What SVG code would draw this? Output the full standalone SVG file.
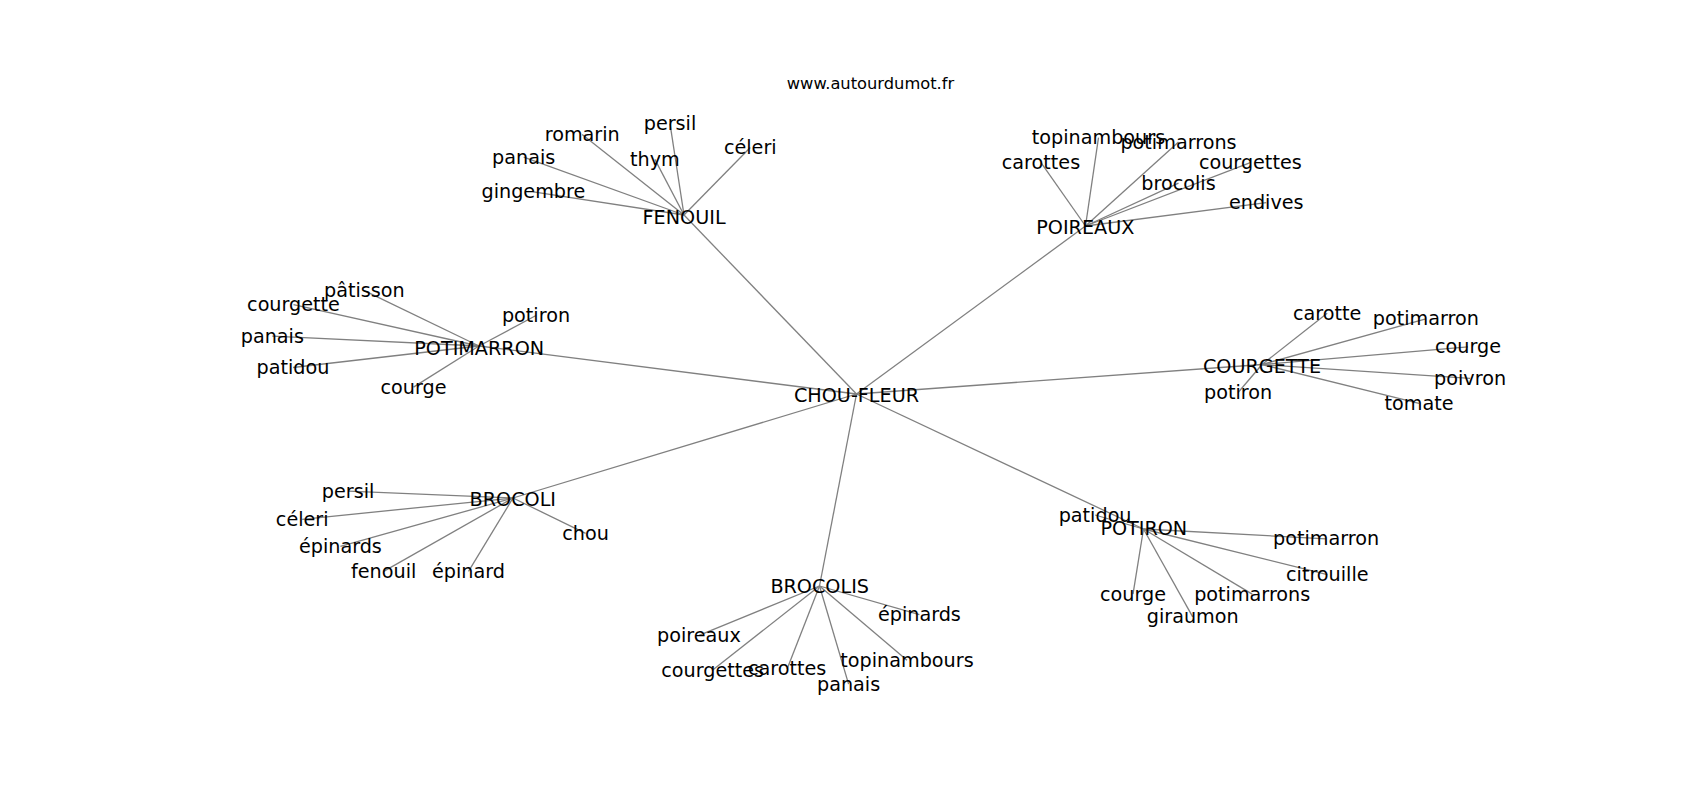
<svg xmlns="http://www.w3.org/2000/svg" width="1700" height="800" viewBox="0 0 1700 800">
<style>
.e{stroke:#808080;stroke-width:1.3;fill:none}
text{font-family:"DejaVu Sans","Liberation Sans",sans-serif;font-size:19.2px;fill:#000;text-anchor:middle}
.title{font-size:16.3px}
</style>
<rect width="1700" height="800" fill="#fff"/>
<text class="title" x="870.5" y="88.5">www.autourdumot.fr</text>
<g id="edges">
<line class="e" x1="856.5" y1="394" x2="684" y2="215"/>
<line class="e" x1="856.5" y1="394" x2="1085.5" y2="226"/>
<line class="e" x1="856.5" y1="394" x2="479" y2="346"/>
<line class="e" x1="856.5" y1="394" x2="1262" y2="364.5"/>
<line class="e" x1="856.5" y1="394" x2="513" y2="498"/>
<line class="e" x1="856.5" y1="394" x2="819.5" y2="586"/>
<line class="e" x1="856.5" y1="394" x2="1143.5" y2="529"/>
<line class="e" x1="684" y1="215" x2="670" y2="123.6"/>
<line class="e" x1="684" y1="215" x2="582.2" y2="134.4"/>
<line class="e" x1="684" y1="215" x2="750.3" y2="147.5"/>
<line class="e" x1="684" y1="215" x2="523.7" y2="157.2"/>
<line class="e" x1="684" y1="215" x2="654.9" y2="159.4"/>
<line class="e" x1="684" y1="215" x2="533.4" y2="191.9"/>
<line class="e" x1="1085.5" y1="226" x2="1098.5" y2="137.7"/>
<line class="e" x1="1085.5" y1="226" x2="1178.5" y2="142"/>
<line class="e" x1="1085.5" y1="226" x2="1041" y2="162.6"/>
<line class="e" x1="1085.5" y1="226" x2="1250.3" y2="162.6"/>
<line class="e" x1="1085.5" y1="226" x2="1178.5" y2="183.2"/>
<line class="e" x1="1085.5" y1="226" x2="1266.3" y2="202.7"/>
<line class="e" x1="479" y1="346" x2="364.3" y2="290.6"/>
<line class="e" x1="479" y1="346" x2="293.5" y2="304.7"/>
<line class="e" x1="479" y1="346" x2="536" y2="315.5"/>
<line class="e" x1="479" y1="346" x2="272.3" y2="336.1"/>
<line class="e" x1="479" y1="346" x2="293" y2="367.5"/>
<line class="e" x1="479" y1="346" x2="413.5" y2="387.1"/>
<line class="e" x1="1262" y1="364.5" x2="1327.2" y2="313.3"/>
<line class="e" x1="1262" y1="364.5" x2="1425.8" y2="318.8"/>
<line class="e" x1="1262" y1="364.5" x2="1468" y2="346.9"/>
<line class="e" x1="1262" y1="364.5" x2="1470.1" y2="378.4"/>
<line class="e" x1="1262" y1="364.5" x2="1238.1" y2="392.5"/>
<line class="e" x1="1262" y1="364.5" x2="1419" y2="403.3"/>
<line class="e" x1="513" y1="498" x2="348.1" y2="491.1"/>
<line class="e" x1="513" y1="498" x2="302.2" y2="519.3"/>
<line class="e" x1="513" y1="498" x2="340.4" y2="546.4"/>
<line class="e" x1="513" y1="498" x2="585.6" y2="533.4"/>
<line class="e" x1="513" y1="498" x2="383.7" y2="571.4"/>
<line class="e" x1="513" y1="498" x2="468.5" y2="571.4"/>
<line class="e" x1="819.5" y1="586" x2="919.4" y2="614.7"/>
<line class="e" x1="819.5" y1="586" x2="699" y2="635.3"/>
<line class="e" x1="819.5" y1="586" x2="907" y2="660.3"/>
<line class="e" x1="819.5" y1="586" x2="712.7" y2="670"/>
<line class="e" x1="819.5" y1="586" x2="787.1" y2="668.9"/>
<line class="e" x1="819.5" y1="586" x2="848.6" y2="684.1"/>
<line class="e" x1="1143.5" y1="529" x2="1095.1" y2="515"/>
<line class="e" x1="1143.5" y1="529" x2="1326.1" y2="538.8"/>
<line class="e" x1="1143.5" y1="529" x2="1327.3" y2="574.6"/>
<line class="e" x1="1143.5" y1="529" x2="1133" y2="594.1"/>
<line class="e" x1="1143.5" y1="529" x2="1252.2" y2="594.1"/>
<line class="e" x1="1143.5" y1="529" x2="1192.7" y2="616.9"/>
</g>
<g id="chou-fleur"><text x="856.5" y="402.2">CHOU-FLEUR</text></g>
<g id="fenouil"><text x="684.1" y="223.5">FENOUIL</text></g>
<g id="fenouil-persil"><text x="670" y="130.1">persil</text></g>
<g id="fenouil-romarin"><text x="582.2" y="140.9">romarin</text></g>
<g id="fenouil-celeri"><text x="750.3" y="154">céleri</text></g>
<g id="fenouil-panais"><text x="523.7" y="163.7">panais</text></g>
<g id="fenouil-thym"><text x="654.9" y="165.9">thym</text></g>
<g id="fenouil-gingembre"><text x="533.4" y="198.4">gingembre</text></g>
<g id="poireaux"><text x="1085.3" y="234.2">POIREAUX</text></g>
<g id="poireaux-topinambours"><text x="1098.5" y="144.2">topinambours</text></g>
<g id="poireaux-potimarrons"><text x="1178.5" y="148.5">potimarrons</text></g>
<g id="poireaux-carottes"><text x="1041" y="169.1">carottes</text></g>
<g id="poireaux-courgettes"><text x="1250.3" y="169.1">courgettes</text></g>
<g id="poireaux-brocolis"><text x="1178.5" y="189.7">brocolis</text></g>
<g id="poireaux-endives"><text x="1266.3" y="209.2">endives</text></g>
<g id="potimarron"><text x="479.2" y="354.5">POTIMARRON</text></g>
<g id="potimarron-patisson"><text x="364.3" y="297.1">pâtisson</text></g>
<g id="potimarron-courgette"><text x="293.5" y="311.2">courgette</text></g>
<g id="potimarron-potiron"><text x="536" y="322">potiron</text></g>
<g id="potimarron-panais"><text x="272.3" y="342.6">panais</text></g>
<g id="potimarron-patidou"><text x="293" y="374">patidou</text></g>
<g id="potimarron-courge"><text x="413.5" y="393.6">courge</text></g>
<g id="courgette"><text x="1262" y="373">COURGETTE</text></g>
<g id="courgette-carotte"><text x="1327.2" y="319.8">carotte</text></g>
<g id="courgette-potimarron"><text x="1425.8" y="325.3">potimarron</text></g>
<g id="courgette-courge"><text x="1468" y="353.4">courge</text></g>
<g id="courgette-poivron"><text x="1470.1" y="384.9">poivron</text></g>
<g id="courgette-potiron"><text x="1238.1" y="399">potiron</text></g>
<g id="courgette-tomate"><text x="1419" y="409.8">tomate</text></g>
<g id="brocoli"><text x="512.8" y="506.3">BROCOLI</text></g>
<g id="brocoli-persil"><text x="348.1" y="497.6">persil</text></g>
<g id="brocoli-celeri"><text x="302.2" y="525.8">céleri</text></g>
<g id="brocoli-epinards"><text x="340.4" y="552.9">épinards</text></g>
<g id="brocoli-chou"><text x="585.6" y="539.9">chou</text></g>
<g id="brocoli-fenouil"><text x="383.7" y="577.9">fenouil</text></g>
<g id="brocoli-epinard"><text x="468.5" y="577.9">épinard</text></g>
<g id="brocolis"><text x="819.7" y="593.1">BROCOLIS</text></g>
<g id="brocolis-epinards"><text x="919.4" y="621.2">épinards</text></g>
<g id="brocolis-poireaux"><text x="699" y="641.8">poireaux</text></g>
<g id="brocolis-topinambours"><text x="907" y="666.8">topinambours</text></g>
<g id="brocolis-courgettes"><text x="712.7" y="676.5">courgettes</text></g>
<g id="brocolis-carottes"><text x="787.1" y="675.4">carottes</text></g>
<g id="brocolis-panais"><text x="848.6" y="690.6">panais</text></g>
<g id="potiron"><text x="1143.8" y="534.5">POTIRON</text></g>
<g id="potiron-patidou"><text x="1095.1" y="521.5">patidou</text></g>
<g id="potiron-potimarron"><text x="1326.1" y="545.3">potimarron</text></g>
<g id="potiron-citrouille"><text x="1327.3" y="581.1">citrouille</text></g>
<g id="potiron-courge"><text x="1133" y="600.6">courge</text></g>
<g id="potiron-potimarrons"><text x="1252.2" y="600.6">potimarrons</text></g>
<g id="potiron-giraumon"><text x="1192.7" y="623.4">giraumon</text></g>
</svg>
